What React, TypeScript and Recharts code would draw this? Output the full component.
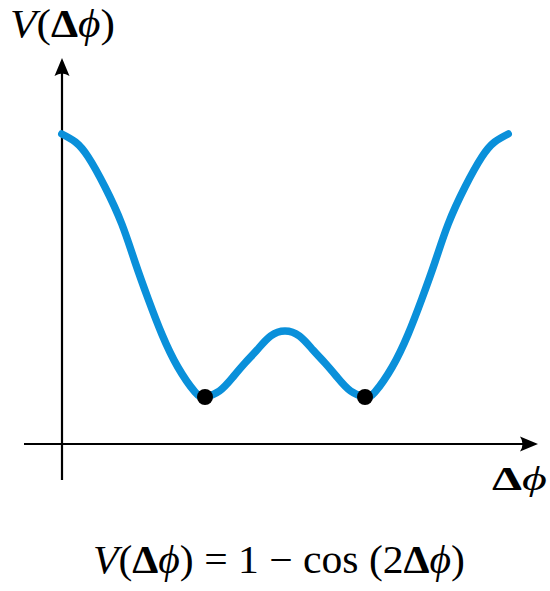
import React from "react";
import { LineChart, Line, XAxis, YAxis, ReferenceLine, ReferenceDot, Customized } from "recharts";

// Δφ positions (arbitrary units, centre of the double well at 0) and potential values
const curveX = [-2.79, -2.62, -2.46, -2.25, -2.04, -1.875, -1.71, -1.54, -1.34, -1.125, -1.0, -0.82, -0.65, -0.5, -0.35, -0.18, 0, 0.18, 0.35, 0.5, 0.65, 0.82, 1.0, 1.125, 1.34, 1.54, 1.71, 1.875, 2.04, 2.25, 2.46, 2.62, 2.79];
const curveV = [3.1, 3.02, 2.87, 2.57, 2.2, 1.82, 1.45, 1.1, 0.77, 0.52, 0.47, 0.53, 0.67, 0.81, 0.94, 1.08, 1.13, 1.08, 0.94, 0.81, 0.67, 0.53, 0.47, 0.52, 0.77, 1.1, 1.45, 1.82, 2.2, 2.57, 2.87, 3.02, 3.1];

const minimaX = [-1, 1];
const minimaV = [0.47, 0.47];

const xDomain = [-3.2625, 3.1625];
const vDomain = [-0.36, 3.86];
const yAxisAt = -2.7875;

const data = curveX.map((x, i) => ({ x, v: curveV[i] }));

const BLUE = "#0a90da";
const FONT = "'Liberation Serif', 'DejaVu Serif', serif";

const ArrowRight = (p: any) => (
  <path
    d={`M ${p.cx} ${p.cy} L ${p.cx - 18} ${p.cy - 7.5} Q ${p.cx - 13} ${p.cy} ${p.cx - 18} ${p.cy + 7.5} Z`}
    fill="#000"
  />
);
const ArrowUp = (p: any) => (
  <path
    d={`M ${p.cx} ${p.cy} L ${p.cx - 7.5} ${p.cy + 18} Q ${p.cx} ${p.cy + 13} ${p.cx + 7.5} ${p.cy + 18} Z`}
    fill="#000"
  />
);
const BlackDot = (p: any) => <circle cx={p.cx} cy={p.cy} r={8} fill="#000" />;

const Texts = () => (
  <g fontFamily={FONT} fill="#000">
    <text x={10} y={37} fontSize={39} textLength={105} lengthAdjust="spacingAndGlyphs">
      <tspan fontStyle="italic">V</tspan>
      <tspan>(</tspan>
      <tspan fontWeight="bold">Δ</tspan>
      <tspan fontStyle="italic">ϕ</tspan>
      <tspan>)</tspan>
    </text>
    <text x={492} y={490} fontSize={34} textLength={55} lengthAdjust="spacingAndGlyphs">
      <tspan fontWeight="bold">Δ</tspan>
      <tspan fontStyle="italic">ϕ</tspan>
    </text>
    <text x={93} y={573} fontSize={40} textLength={372} lengthAdjust="spacingAndGlyphs">
      <tspan fontStyle="italic">V</tspan>
      <tspan>(</tspan>
      <tspan fontWeight="bold">Δ</tspan>
      <tspan fontStyle="italic">ϕ</tspan>
      <tspan>) = 1 − cos (2</tspan>
      <tspan fontWeight="bold">Δ</tspan>
      <tspan fontStyle="italic">ϕ</tspan>
      <tspan>)</tspan>
    </text>
  </g>
);

export default function App() {
  return (
    <div style={{ position: "absolute", left: 0, top: 0, width: 550, height: 591, background: "#fff" }}>
      <LineChart
        width={550}
        height={591}
        data={data}
        margin={{ top: 58, right: 12, bottom: 111, left: 24 }}
      >
        <XAxis type="number" dataKey="x" domain={xDomain} hide allowDataOverflow />
        <YAxis type="number" domain={vDomain} hide allowDataOverflow />
        <ReferenceLine
          segment={[{ x: xDomain[0], y: 0 }, { x: xDomain[1] - 0.1, y: 0 }]}
          stroke="#000"
          strokeWidth={2.2}
          ifOverflow="visible"
        />
        <ReferenceLine
          segment={[{ x: yAxisAt, y: vDomain[0] }, { x: yAxisAt, y: vDomain[1] - 0.08 }]}
          stroke="#000"
          strokeWidth={2.2}
          ifOverflow="visible"
        />
        <ReferenceDot x={xDomain[1]} y={0} r={1} shape={ArrowRight} ifOverflow="visible" />
        <ReferenceDot x={yAxisAt} y={vDomain[1]} r={1} shape={ArrowUp} ifOverflow="visible" />
        <Line
          type="natural"
          dataKey="v"
          stroke={BLUE}
          strokeWidth={7.5}
          strokeLinecap="round"
          dot={false}
          activeDot={false}
          isAnimationActive={false}
        />
        {minimaX.map((mx, i) => (
          <ReferenceDot key={i} x={mx} y={minimaV[i]} r={8} shape={BlackDot} ifOverflow="visible" />
        ))}
        <Customized component={Texts} />
      </LineChart>
    </div>
  );
}
